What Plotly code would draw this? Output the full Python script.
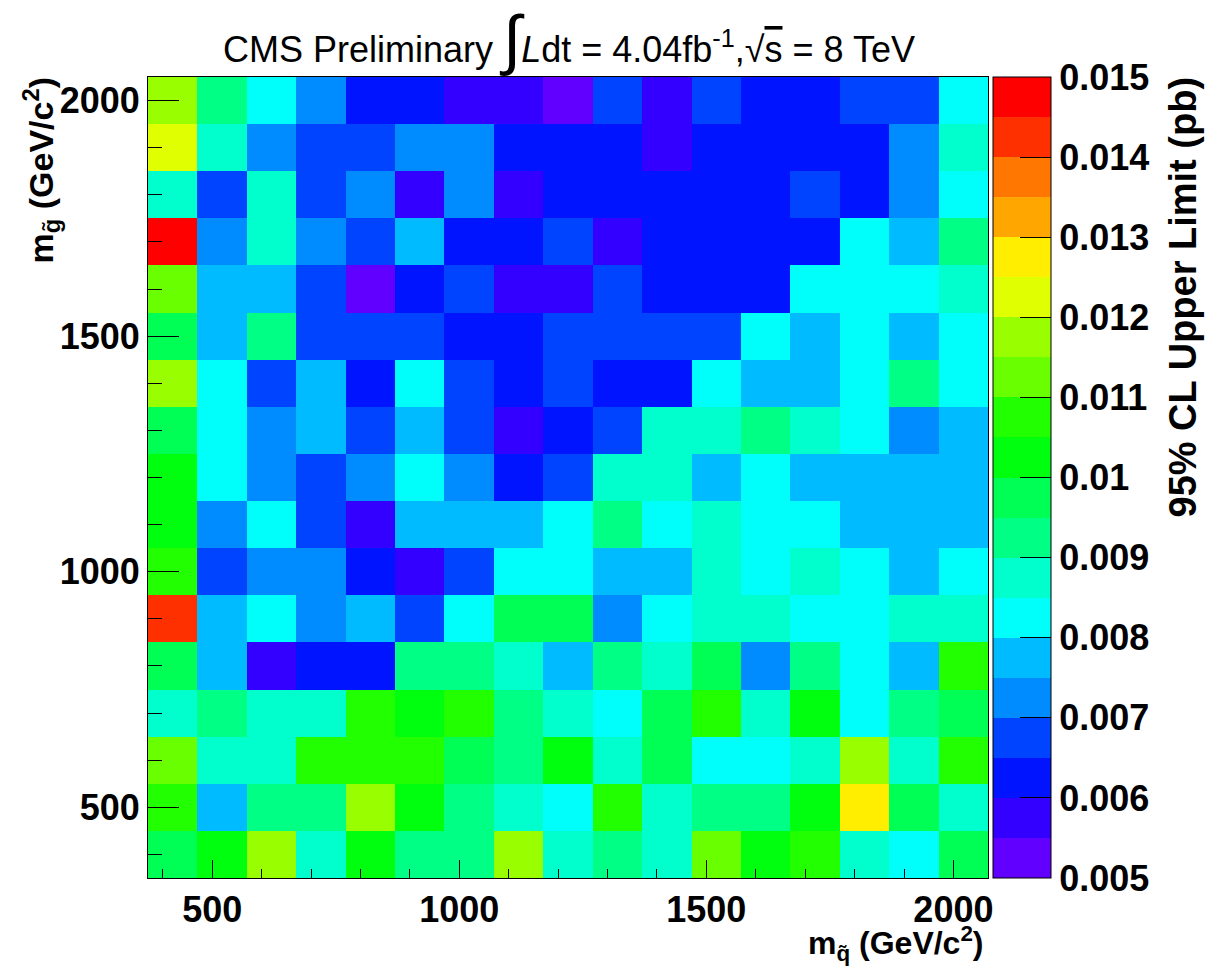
import plotly.graph_objects as go

# Bin centres (GeV/c^2)
m_squark = [420, 520, 620, 720, 820, 920, 1020, 1120, 1220, 1320, 1420, 1520, 1620, 1720, 1820, 1920, 2020]
m_gluino = [400, 500, 600, 700, 800, 900, 1000, 1100, 1200, 1300, 1400, 1500, 1600, 1700, 1800, 1900, 2000]

# 95% CL upper limit (pb), one list per gluino mass row, ordered by squark mass
limit_g400 = [0.00975, 0.01025, 0.01175, 0.00875, 0.01025, 0.00925, 0.00925, 0.01175, 0.00875, 0.00925, 0.00875, 0.01125, 0.01025, 0.01075, 0.00875, 0.00825, 0.00975]
limit_g500 = [0.01075, 0.00775, 0.00925, 0.00925, 0.01175, 0.01025, 0.00925, 0.00875, 0.00825, 0.01075, 0.00875, 0.00925, 0.00925, 0.01025, 0.01275, 0.00975, 0.00875]
limit_g600 = [0.01125, 0.00875, 0.00875, 0.01075, 0.01075, 0.01075, 0.00975, 0.00925, 0.01025, 0.00875, 0.00975, 0.00825, 0.00825, 0.00875, 0.01175, 0.00875, 0.01075]
limit_g700 = [0.00875, 0.00925, 0.00875, 0.00875, 0.01075, 0.01025, 0.01075, 0.00925, 0.00875, 0.00825, 0.00975, 0.01075, 0.00875, 0.01025, 0.00825, 0.00925, 0.00975]
limit_g800 = [0.00975, 0.00775, 0.00575, 0.00625, 0.00625, 0.00925, 0.00925, 0.00875, 0.00775, 0.00925, 0.00875, 0.00975, 0.00725, 0.00925, 0.00825, 0.00775, 0.01075]
limit_g900 = [0.01425, 0.00775, 0.00825, 0.00725, 0.00775, 0.00675, 0.00825, 0.00975, 0.00975, 0.00725, 0.00825, 0.00875, 0.00875, 0.00825, 0.00825, 0.00875, 0.00875]
limit_g1000 = [0.01075, 0.00675, 0.00725, 0.00725, 0.00625, 0.00575, 0.00675, 0.00825, 0.00825, 0.00775, 0.00775, 0.00875, 0.00825, 0.00875, 0.00825, 0.00775, 0.00825]
limit_g1100 = [0.01025, 0.00725, 0.00825, 0.00675, 0.00575, 0.00775, 0.00775, 0.00775, 0.00825, 0.00925, 0.00825, 0.00875, 0.00825, 0.00825, 0.00775, 0.00775, 0.00775]
limit_g1200 = [0.01025, 0.00825, 0.00725, 0.00675, 0.00725, 0.00825, 0.00725, 0.00625, 0.00675, 0.00875, 0.00875, 0.00775, 0.00825, 0.00775, 0.00775, 0.00775, 0.00775]
limit_g1300 = [0.00975, 0.00825, 0.00725, 0.00775, 0.00675, 0.00775, 0.00675, 0.00575, 0.00625, 0.00675, 0.00875, 0.00875, 0.00925, 0.00875, 0.00825, 0.00725, 0.00775]
limit_g1400 = [0.01175, 0.00825, 0.00675, 0.00775, 0.00625, 0.00825, 0.00675, 0.00625, 0.00675, 0.00625, 0.00625, 0.00825, 0.00775, 0.00775, 0.00825, 0.00925, 0.00825]
limit_g1500 = [0.00975, 0.00775, 0.00925, 0.00675, 0.00675, 0.00675, 0.00625, 0.00625, 0.00675, 0.00675, 0.00675, 0.00675, 0.00825, 0.00775, 0.00825, 0.00775, 0.00825]
limit_g1600 = [0.01125, 0.00775, 0.00775, 0.00675, 0.00525, 0.00625, 0.00675, 0.00575, 0.00575, 0.00675, 0.00625, 0.00625, 0.00625, 0.00825, 0.00825, 0.00825, 0.00875]
limit_g1700 = [0.01475, 0.00725, 0.00875, 0.00725, 0.00675, 0.00775, 0.00625, 0.00625, 0.00675, 0.00575, 0.00625, 0.00625, 0.00625, 0.00625, 0.00825, 0.00775, 0.00925]
limit_g1800 = [0.00875, 0.00675, 0.00875, 0.00675, 0.00725, 0.00575, 0.00725, 0.00575, 0.00625, 0.00625, 0.00625, 0.00625, 0.00625, 0.00675, 0.00625, 0.00725, 0.00825]
limit_g1900 = [0.01225, 0.00875, 0.00725, 0.00675, 0.00675, 0.00725, 0.00725, 0.00625, 0.00625, 0.00625, 0.00575, 0.00625, 0.00625, 0.00625, 0.00625, 0.00725, 0.00875]
limit_g2000 = [0.01175, 0.00925, 0.00825, 0.00725, 0.00625, 0.00625, 0.00575, 0.00575, 0.00525, 0.00675, 0.00575, 0.00675, 0.00625, 0.00625, 0.00675, 0.00675, 0.00825]

z_rows = [limit_g400, limit_g500, limit_g600, limit_g700, limit_g800, limit_g900,
          limit_g1000, limit_g1100, limit_g1200, limit_g1300, limit_g1400, limit_g1500,
          limit_g1600, limit_g1700, limit_g1800, limit_g1900, limit_g2000]

z_ticks = [0.005, 0.006, 0.007, 0.008, 0.009, 0.010, 0.011, 0.012, 0.013, 0.014, 0.015]
z_ticktext = ["0.005", "0.006", "0.007", "0.008", "0.009", "0.01", "0.011", "0.012", "0.013", "0.014", "0.015"]
axis_ticks = [500, 1000, 1500, 2000]

# ROOT "pretty" palette sampled at 20 contour levels
palette = ["#6200FF", "#3300FF", "#0014FF", "#0044FF", "#008BFF", "#00BBFF", "#00FFFB", "#00FFCC",
           "#00FF85", "#00FF55", "#00FF0E", "#22FF00", "#69FF00", "#99FF00", "#E0FF00", "#FFEE00",
           "#FFA700", "#FF7700", "#FF3000", "#FF0000"]
n = len(palette)
colorscale = []
for i, c in enumerate(palette):
    colorscale.append([i / n, c])
    colorscale.append([(i + 1) / n, c])

FONT = "Liberation Sans, Arial, Helvetica, sans-serif"
tickfont = dict(family=FONT, size=36, color="black", weight="bold")

# plot area in pixels
L, R, T, B = 148.3, 988.3, 76.7, 878.3
PW, PH = R - L, B - T

fig = go.Figure(go.Heatmap(
    x=m_squark, y=m_gluino, z=z_rows,
    zmin=0.005, zmax=0.015, colorscale=colorscale,
    colorbar=dict(
        thickness=58, thicknessmode="pixels", len=1, lenmode="fraction",
        x=993 / 1207, xref="container", xanchor="left", xpad=0,
        y=0.5, yanchor="middle", ypad=0,
        outlinewidth=1, outlinecolor="black",
        tickvals=z_ticks, ticktext=z_ticktext, ticks="inside", ticklen=31,
        tickcolor="black", tickwidth=1, tickfont=tickfont,
    ),
))

fig.update_layout(
    width=1207, height=966,
    margin=dict(l=L, r=1207 - R, t=T, b=966 - B, autoexpand=False),
    paper_bgcolor="white", plot_bgcolor="white",
    showlegend=False,
    xaxis=dict(
        range=[370, 2070], tickvals=axis_ticks, ticks="inside", ticklen=18, tickwidth=1,
        tickcolor="black", tickfont=tickfont, showgrid=False, zeroline=False,
        showline=True, linecolor="black", linewidth=1, mirror=True,
        minor=dict(dtick=100, tick0=0, ticks="inside", ticklen=9, tickcolor="black", showgrid=False),
    ),
    yaxis=dict(
        range=[350, 2050], tickvals=axis_ticks, ticks="inside", ticklen=31, tickwidth=1,
        tickcolor="black", tickfont=tickfont, showgrid=False, zeroline=False,
        showline=True, linecolor="black", linewidth=1, mirror=True,
        minor=dict(dtick=100, tick0=0, ticks="inside", ticklen=14, tickcolor="black", showgrid=False),
    ),
)

def px_x(px):
    return (px - L) / PW

def px_y(py):
    return (B - py) / PH

title_text = ("CMS Preliminary <span style='font-size:66px'>∫</span><i>L</i>dt = 4.04fb<sup>-1</sup>,"
              "√<span style='text-decoration:overline'>s</span> = 8 TeV")
fig.add_annotation(text=title_text, xref="paper", yref="paper", x=px_x(569), y=px_y(39),
                   xanchor="center", yanchor="middle", showarrow=False,
                   font=dict(family=FONT, size=36, color="black"))
fig.add_annotation(text="m<sub>q̃</sub> (GeV/c<sup>2</sup>)", xref="paper", yref="paper",
                   x=px_x(986), y=px_y(944), xanchor="right", yanchor="middle", showarrow=False,
                   font=dict(family=FONT, size=32, color="black", weight="bold"))
fig.add_annotation(text="m<sub>g̃</sub> (GeV/c<sup>2</sup>)", xref="paper", yref="paper",
                   x=px_x(41), y=px_y(74), xanchor="center", yanchor="top", textangle=-90,
                   showarrow=False, font=dict(family=FONT, size=34, color="black", weight="bold"))
fig.add_annotation(text="95% CL Upper Limit (pb)", xref="paper", yref="paper",
                   x=px_x(1183), y=px_y(74), xanchor="center", yanchor="top", textangle=-90,
                   showarrow=False, font=dict(family=FONT, size=38, color="black", weight="bold"))

fig.write_html("out.html")
